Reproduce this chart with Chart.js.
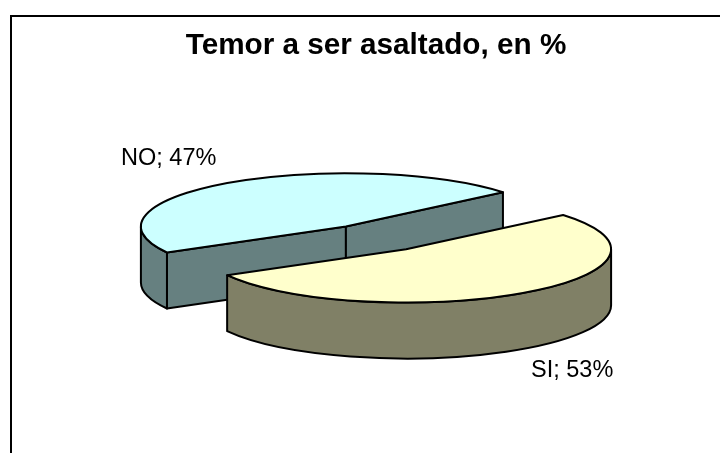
<!DOCTYPE html>
<html><head><meta charset="utf-8">
<style>html,body{margin:0;padding:0;background:#fff}canvas{display:block}</style>
<script src="https://cdn.jsdelivr.net/npm/chart.js@4"></script>
</head><body>
<div style="position:relative;width:720px;height:453px"><canvas id="c" width="720" height="453"></canvas></div>
<script>
const categories = ['SI', 'NO'];
const values = [53, 47];
const topColors = ['#FFFFCC', '#CCFFFF'];
const wallColors = ['#808066', '#668080'];
const titleText = 'Temor a ser asaltado, en %';

const TILT = 0.26, DEPTH = 56, EXPLODE = 53, LW = 2;
const labelAnchor = [{x:531, y:371}, {x:121, y:159}];

const pie3d = {
  id: 'pie3d',
  beforeDraw(chart) {
    const c = chart.ctx;
    c.save();
    c.fillStyle = '#fff';
    c.fillRect(0, 0, chart.width, chart.height);
    c.strokeStyle = '#000';
    c.lineWidth = 2;
    c.beginPath();
    c.moveTo(11, chart.height);
    c.lineTo(11, 16);
    c.lineTo(chart.width, 16);
    c.stroke();
    c.restore();
  },
  beforeDatasetDraw(chart, args) {
    const c = chart.ctx;
    const arcs = args.meta.data;
    const order = arcs.map((_, i) => i).reverse();
    for (const i of order) {
      const a = arcs[i];
      const r = a.outerRadius;
      const mid = (a.startAngle + a.endAngle) / 2;
      const cx = a.x + Math.cos(mid) * EXPLODE;
      const cy = a.y + Math.sin(mid) * EXPLODE * TILT;
      const pt = (t, d) => [cx + Math.cos(t) * r, cy + Math.sin(t) * r * TILT + d];
      c.save();
      c.lineWidth = LW;
      c.strokeStyle = '#000';
      c.lineJoin = 'round';
      c.fillStyle = wallColors[i];

      const quad = (t) => {
        const e = pt(t, 0);
        c.beginPath();
        c.moveTo(cx, cy);
        c.lineTo(e[0], e[1]);
        c.lineTo(e[0], e[1] + DEPTH);
        c.lineTo(cx, cy + DEPTH);
        c.closePath();
        c.fill();
        c.stroke();
      };
      if (Math.sin(a.startAngle - Math.PI / 2) > 0) quad(a.startAngle);
      if (Math.sin(a.endAngle + Math.PI / 2) > 0) quad(a.endAngle);

      const TAU = Math.PI * 2;
      for (let k = -1; k <= 1; k++) {
        const from = Math.max(a.startAngle, k * TAU);
        const to = Math.min(a.endAngle, k * TAU + Math.PI);
        if (to <= from) continue;
        c.beginPath();
        c.ellipse(cx, cy, r, r * TILT, 0, from, to);
        c.ellipse(cx, cy + DEPTH, r, r * TILT, 0, to, from, true);
        c.closePath();
        c.fill();
        c.stroke();
      }

      c.save();
      c.translate(cx, cy);
      c.scale(1, TILT);
      c.translate(-a.x, -a.y);
      a.draw(c);
      c.restore();

      c.beginPath();
      c.moveTo(cx, cy);
      c.ellipse(cx, cy, r, r * TILT, 0, a.startAngle, a.endAngle);
      c.closePath();
      c.stroke();
      c.restore();
    }
    return false;
  },
  afterDatasetsDraw(chart) {
    const c = chart.ctx;
    c.save();
    c.fillStyle = '#000';
    c.font = '23.5px "Liberation Sans", Arial, sans-serif';
    c.textAlign = 'left';
    c.textBaseline = 'middle';
    categories.forEach((name, i) => {
      c.fillText(name + '; ' + values[i] + '%', labelAnchor[i].x, labelAnchor[i].y);
    });
    c.restore();
  }
};

new Chart(document.getElementById('c'), {
  type: 'pie',
  data: {
    labels: categories,
    datasets: [{
      data: values,
      backgroundColor: topColors,
      borderWidth: 0,
      radius: 205
    }]
  },
  options: {
    responsive: false,
    animation: false,
    rotation: 50,
    layout: { padding: { left: 171, right: 139, top: 0, bottom: 38 } },
    plugins: {
      legend: { display: false },
      tooltip: { enabled: false },
      title: {
        display: true,
        text: titleText,
        color: '#000',
        font: { family: '"Liberation Sans", Arial, sans-serif', size: 29.7, weight: 'bold', lineHeight: 1 },
        padding: { top: 31, bottom: 0 }
      }
    }
  },
  plugins: [pie3d]
});
</script>
</body></html>
